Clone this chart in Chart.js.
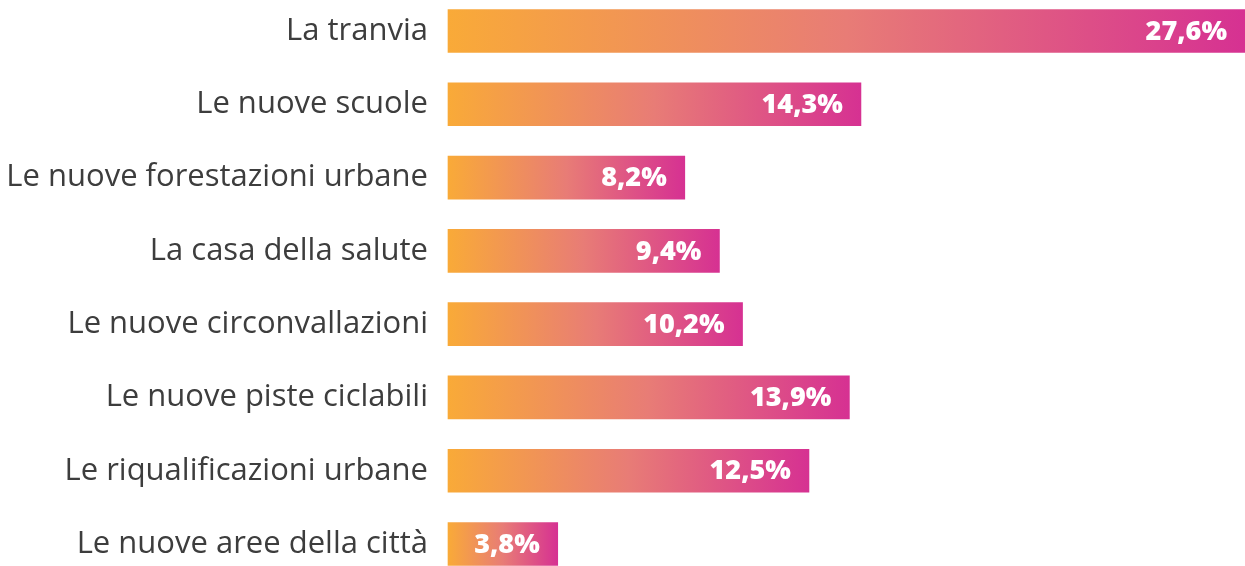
<!DOCTYPE html>
<html lang="it">
<head>
  <meta charset="UTF-8" />
  <title>Progetti</title>
  <script src="https://cdn.jsdelivr.net/npm/chart.js"></script>
  <style>
    html, body { margin: 0; padding: 0; background: #fff; }
    #wrap { width: 1245px; height: 566px; }
  </style>
</head>
<body>
  <div id="wrap"><canvas id="chart"></canvas></div>

  <script>
    const categorie = [
      'La tranvia',
      'Le nuove scuole',
      'Le nuove forestazioni urbane',
      'La casa della salute',
      'Le nuove circonvallazioni',
      'Le nuove piste ciclabili',
      'Le riqualificazioni urbane',
      'Le nuove aree della città'
    ];
    const valori = [27.6, 14.3, 8.2, 9.4, 10.2, 13.9, 12.5, 3.8];

    // gradiente per ogni barra, dall'inizio alla fine della barra
    function gradiente(ctx) {
      const chart = ctx.chart;
      if (!chart.chartArea || !chart.scales.x) return '#f0a050';
      const x0 = chart.scales.x.getPixelForValue(0);
      const x1 = chart.scales.x.getPixelForValue(ctx.raw);
      const g = chart.ctx.createLinearGradient(x0, 0, x1, 0);
      g.addColorStop(0, '#f9aa38');
      g.addColorStop(0.5, '#e87c76');
      g.addColorStop(1, '#d63192');
      return g;
    }

    // etichette dei valori dentro la barra
    const etichette = {
      id: 'etichette',
      afterDatasetsDraw(chart) {
        const c = chart.ctx;
        const meta = chart.getDatasetMeta(0);
        c.save();
        c.font = '800 27px "Open Sans", sans-serif';
        c.fillStyle = '#ffffff';
        c.textAlign = 'right';
        c.textBaseline = 'middle';
        meta.data.forEach((bar, i) => {
          const txt = valori[i].toFixed(1).replace('.', ',') + '%';
          c.fillText(txt, bar.x - 18, bar.y + 1);
        });
        c.restore();
      }
    };

    new Chart(document.getElementById('chart'), {
      type: 'bar',
      data: {
        labels: categorie,
        datasets: [{
          data: valori,
          backgroundColor: gradiente,
          barThickness: 43,
          borderSkipped: false,
          clip: false
        }]
      },
      options: {
        indexAxis: 'y',
        responsive: true,
        maintainAspectRatio: false,
        animation: false,
        layout: { padding: { top: 31, bottom: 22, left: 0, right: 0 } },
        plugins: {
          legend: { display: false },
          tooltip: { enabled: false }
        },
        scales: {
          x: {
            display: false,
            min: 0,
            max: 27.6
          },
          y: {
            offset: false,
            grid: { display: false },
            border: { display: false },
            afterFit(scale) {
              scale.width = 448;
              scale.paddingTop = 0;
              scale.paddingBottom = 0;
            },
            ticks: {
              padding: 12,
              color: '#3d3d3d',
              font: { family: '"Open Sans", sans-serif', size: 31 }
            }
          }
        }
      },
      plugins: [etichette]
    });
  </script>
</body>
</html>
